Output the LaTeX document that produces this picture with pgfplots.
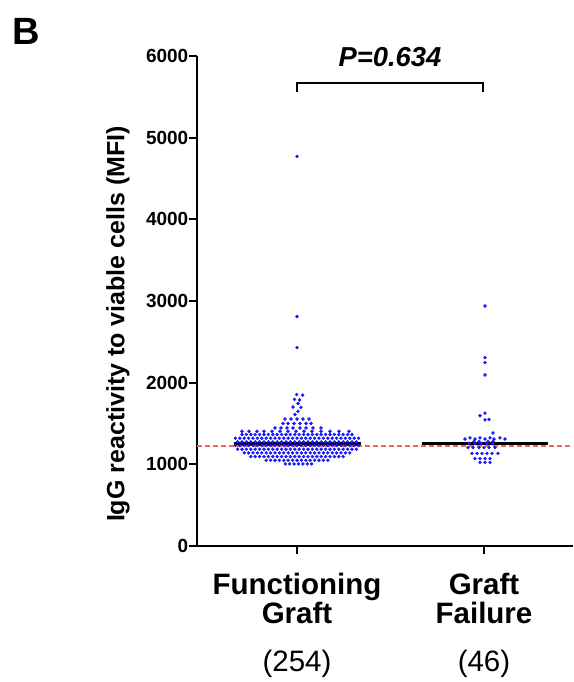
\documentclass[border=0pt]{standalone}
\usepackage{fontspec}
\setmainfont{Liberation Sans}
\usepackage{pgfplots}
\pgfplotsset{compat=1.18}

\definecolor{dotblue}{RGB}{25,25,255}
\definecolor{refred}{RGB}{245,100,100}

\begin{document}
\begin{tikzpicture}
\useasboundingbox (-197pt,-136pt) rectangle (376pt,546pt);
\begin{axis}[
    at={(0,0)}, anchor=south west,
    scale only axis,
    width=376pt, height=490pt,
    xmin=0, xmax=376,
    ymin=0, ymax=6000,
    axis lines=left,
    axis line style={-, line width=2.2pt},
    tick align=outside,
    major tick length=7.5pt,
    major tick style={black, line width=2pt},
    ytick={0,1000,2000,3000,4000,5000,6000},
    xtick={100,287},
    xticklabels={{Functioning\\Graft\\[18pt]\mdseries(254)},{Graft\\Failure\\[18pt]\mdseries(46)}},
    /pgf/number format/assume math mode=true,
    /pgf/number format/1000 sep={},
    yticklabel style={font=\fontsize{19}{19}\selectfont\bfseries, inner sep=1pt},
    xticklabel style={font=\fontsize{29.5}{29.5}\selectfont\bfseries, align=center, inner sep=0pt, yshift=-19pt},
    clip=false,
]
% Functioning Graft (n = 254), beeswarm rows
\addplot[only marks, mark=*, mark size=1.5pt, color=dotblue, mark options={draw=none}] coordinates {
(88.3,1005) (92.7,1005) (97.1,1005) (101.5,1005) (105.9,1005) (110.3,1005) (114.7,1005)
(69.2,1050) (73.6,1050) (78.0,1050) (82.4,1050) (86.8,1050) (91.2,1050) (95.6,1050) (100,1050) (104.4,1050) (108.8,1050) (113.2,1050) (117.6,1050) (122.0,1050) (126.4,1050) (130.8,1050)
(53.8,1095) (58.2,1095) (62.6,1095) (67.0,1095) (71.4,1095) (75.8,1095) (80.2,1095) (84.6,1095) (89.0,1095) (93.4,1095) (97.8,1095) (102.2,1095) (106.6,1095) (111.0,1095) (115.4,1095) (119.8,1095) (124.2,1095) (128.6,1095) (133.0,1095) (137.4,1095) (141.8,1095) (146.2,1095)
(47.2,1140) (51.6,1140) (56.0,1140) (60.4,1140) (64.8,1140) (69.2,1140) (73.6,1140) (78.0,1140) (82.4,1140) (86.8,1140) (91.2,1140) (95.6,1140) (100,1140) (104.4,1140) (108.8,1140) (113.2,1140) (117.6,1140) (122.0,1140) (126.4,1140) (130.8,1140) (135.2,1140) (139.6,1140) (144.0,1140) (148.4,1140) (152.8,1140)
(40.6,1185) (45.0,1185) (49.4,1185) (53.8,1185) (58.2,1185) (62.6,1185) (67.0,1185) (71.4,1185) (75.8,1185) (80.2,1185) (84.6,1185) (89.0,1185) (93.4,1185) (97.8,1185) (102.2,1185) (106.6,1185) (111.0,1185) (115.4,1185) (119.8,1185) (124.2,1185) (128.6,1185) (133.0,1185) (137.4,1185) (141.8,1185) (146.2,1185) (150.6,1185) (155.0,1185) (159.4,1185)
(38.4,1230) (42.8,1230) (47.2,1230) (51.6,1230) (56.0,1230) (60.4,1230) (64.8,1230) (69.2,1230) (73.6,1230) (78.0,1230) (82.4,1230) (86.8,1230) (91.2,1230) (95.6,1230) (100,1230) (104.4,1230) (108.8,1230) (113.2,1230) (117.6,1230) (122.0,1230) (126.4,1230) (130.8,1230) (135.2,1230) (139.6,1230) (144.0,1230) (148.4,1230) (152.8,1230) (157.2,1230) (161.6,1230)
(40.6,1275) (45.0,1275) (49.4,1275) (53.8,1275) (58.2,1275) (62.6,1275) (67.0,1275) (71.4,1275) (75.8,1275) (80.2,1275) (84.6,1275) (89.0,1275) (93.4,1275) (97.8,1275) (102.2,1275) (106.6,1275) (111.0,1275) (115.4,1275) (119.8,1275) (124.2,1275) (128.6,1275) (133.0,1275) (137.4,1275) (141.8,1275) (146.2,1275) (150.6,1275) (155.0,1275) (159.4,1275)
(38.4,1320) (42.8,1320) (47.2,1320) (51.6,1320) (56.0,1320) (60.4,1320) (64.8,1320) (69.2,1320) (73.6,1320) (78.0,1320) (82.4,1320) (86.8,1320) (91.2,1320) (95.6,1320) (100,1320) (104.4,1320) (108.8,1320) (113.2,1320) (117.6,1320) (122.0,1320) (126.4,1320) (130.8,1320) (135.2,1320) (139.6,1320) (144.0,1320) (148.4,1320) (152.8,1320) (157.2,1320) (161.6,1320)
(45.0,1365) (49.4,1365) (53.8,1365) (58.2,1365) (62.6,1365) (67.0,1365) (71.4,1365) (75.8,1365) (80.2,1365) (84.6,1365) (89.0,1365) (93.4,1365) (97.8,1365) (102.2,1365) (106.6,1365) (111.0,1365) (115.4,1365) (119.8,1365) (124.2,1365) (128.6,1365) (133.0,1365) (137.4,1365) (141.8,1365) (146.2,1365) (150.6,1365) (155.0,1365)
(45,1405) (52,1405) (60,1405) (67,1405) (75,1405) (83,1405) (91,1405) (99,1405) (107,1405) (115,1405) (124,1405) (133,1405) (142,1405) (152,1405)
(78,1445) (84,1445) (90,1445) (96,1445) (103,1445) (109,1445) (116,1445) (124,1445)
(86,1500) (91,1500) (97,1500) (103,1500) (109,1500) (114,1500)
(88,1555) (94,1555) (100,1555) (106,1555) (112,1555)
(98,1610) (101,1648) (96,1702) (104,1698) (101,1745) (97.5,1795) (102.5,1788) (99.7,1855) (105.7,1848)
(100,2430) (100,2810) (100,4770)
};
% Graft Failure (n = 46)
\addplot[only marks, mark=*, mark size=1.5pt, color=dotblue, mark options={draw=none}] coordinates {
(283,1025) (288,1025) (293,1025)
(278,1070) (283,1070) (288,1070) (293,1070)
(275,1135) (280,1135) (285,1135) (290,1135) (295,1135) (301,1135)
(271,1205) (276,1205) (282,1205) (287,1205) (292,1205) (298,1205)
(272,1255) (278,1255) (284,1255) (290,1255) (296,1255)
(277,1282) (282,1282) (291,1282) (296,1282)
(268,1310) (273,1325) (278,1310) (283,1325) (288,1310) (293,1325) (297,1310) (303,1325) (308,1310)
(296,1384)
(283,1595) (288,1545) (292,1550) (288,1628)
(288,2094) (288,2245) (288,2306) (288,2939)
};
% group means
\addplot[black, line width=3.5pt] coordinates {(37,1249) (164,1249)};
\addplot[black, line width=3.5pt] coordinates {(225,1255) (351,1255)};
% reference level
\addplot[refred, line width=1.5pt, dash pattern=on 5pt off 3pt] coordinates {(0,1223) (376,1223)};
% significance bracket
\draw[line width=1.5pt] (axis cs:100,5560) -- (axis cs:100,5670) -- (axis cs:286,5670) -- (axis cs:286,5560);
\end{axis}
\node[anchor=base, font=\fontsize{27.4}{27.4}\selectfont\bfseries\itshape] at (193pt,479.5pt) {P=0.634};
\node[anchor=base west, inner sep=0pt, font=\fontsize{38}{38}\selectfont\bfseries] at (-185pt,501pt) {B};
\node[rotate=90, font=\fontsize{25}{25}\selectfont\bfseries] at (-79pt,222pt) {IgG reactivity to viable cells (MFI)};
\end{tikzpicture}
\end{document}
